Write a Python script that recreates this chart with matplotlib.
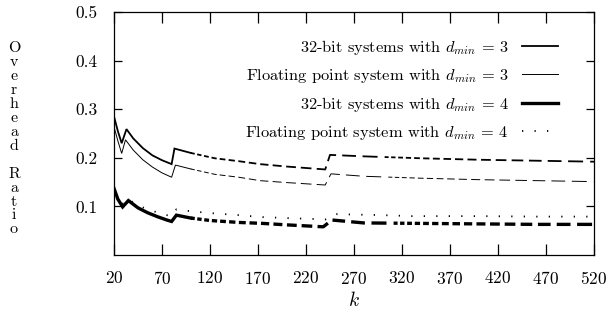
import numpy as np
import matplotlib
matplotlib.use("Agg")
import matplotlib.pyplot as plt

plt.rcParams['font.family'] = ['cmr10', 'DejaVu Serif']
plt.rcParams['mathtext.fontset'] = 'cm'
plt.rcParams['axes.formatter.use_mathtext'] = True
plt.rcParams['lines.scale_dashes'] = False

# values
k_s32_d3 = [20, 24, 28, 33, 40, 50, 60, 70, 80, 83, 100, 125, 150, 172, 200, 240, 245, 280, 340, 400, 460, 520]
v_s32_d3 = [0.285, 0.255, 0.230, 0.259, 0.240, 0.220, 0.205, 0.195, 0.187, 0.219, 0.210, 0.199, 0.193, 0.187,
            0.182, 0.176, 0.206, 0.203, 0.199, 0.196, 0.194, 0.192]

k_fp_d3 = [20, 24, 28, 32, 40, 50, 60, 70, 80, 84, 100, 125, 150, 172, 200, 240, 246, 280, 340, 400, 460, 520]
v_fp_d3 = [0.264, 0.235, 0.209, 0.237, 0.216, 0.196, 0.181, 0.169, 0.160, 0.185, 0.177, 0.166, 0.160, 0.153,
           0.149, 0.144, 0.167, 0.162, 0.158, 0.155, 0.153, 0.151]

k_s32_d4 = [20, 24, 29, 35, 45, 55, 65, 75, 80, 85, 100, 120, 150, 175, 200, 238, 247, 280, 340, 400, 460, 520]
v_s32_d4 = [0.137, 0.115, 0.099, 0.112, 0.097, 0.087, 0.079, 0.072, 0.069, 0.082, 0.076, 0.071, 0.067, 0.065,
            0.062, 0.058, 0.072, 0.066, 0.065, 0.064, 0.063, 0.063]

k_fp_d4 = [20, 25, 30, 35, 40, 50, 63, 75, 80, 85, 100, 122, 150, 174, 200, 230, 240, 252, 300, 330, 400, 460, 520]
v_fp_d4 = [0.125, 0.110, 0.105, 0.115, 0.108, 0.098, 0.089, 0.082, 0.080, 0.094, 0.090, 0.086, 0.082, 0.078,
           0.076, 0.074, 0.073, 0.084, 0.082, 0.080, 0.080, 0.079, 0.079]

labels = [r'32-bit systems with $d_{min}$ = 3',
          r'Floating point system with $d_{min}$ = 3',
          r'32-bit systems with $d_{min}$ = 4',
          r'Floating point system with $d_{min}$ = 4']

xticks = np.arange(20, 521, 50)
yticks = [0.1, 0.2, 0.3, 0.4, 0.5]

# dashes that get longer along the line (scanned look), in points
dash = []
pos = 0.0
while pos < 450:
    d = 4 + 0.06 * pos
    g = 2.5 + 0.025 * pos
    dash += [d * 0.72, g * 0.72]
    pos += d + g

fig = plt.figure(figsize=(6.07, 3.22), dpi=100)
ax = fig.add_axes([114 / 607, 1 - 255 / 322, 480 / 607, 243 / 322])

split = 100
series = [(k_s32_d3, v_s32_d3, 1.3), (k_fp_d3, v_fp_d3, 0.7), (k_s32_d4, v_s32_d4, 2.4)]
for (k, v, lw), lab in zip(series, labels[:3]):
    k = np.array(k)
    v = np.array(v)
    m1 = k <= split
    m2 = k >= split
    ax.plot(k[m1], v[m1], color='black', lw=lw, label=lab, solid_joinstyle='miter')
    ax.plot(k[m2], v[m2], color='black', lw=lw, dashes=dash, dash_capstyle='butt')

ax.plot(k_fp_d4, v_fp_d4, color='black', lw=1.3, dashes=(0.9, 8.1), dash_capstyle='butt', label=labels[3])

ax.set_xlim(20, 520)
ax.set_ylim(0, 0.5)
ax.set_xticks(xticks)
ax.set_yticks(yticks)
ax.set_yticklabels(['0.1', '0.2', '0.3', '0.4', '0.5'])
ax.tick_params(direction='in', top=True, right=True, labelsize=12.5, width=0.9)
ax.tick_params(axis='x', length=8, pad=11)
ax.tick_params(axis='y', length=6, pad=12)
for s in ax.spines.values():
    s.set_linewidth(0.9)

ax.set_xlabel('$k$', fontsize=14, labelpad=3)
fig.text(14 / 607, 1 - 139 / 322, '\n'.join('Overhead Ratio'), fontsize=11.5,
         ha='center', va='center', linespacing=1.02)

leg = ax.legend(loc='upper right', bbox_to_anchor=(0.925, 0.895), frameon=False, markerfirst=False,
                fontsize=11.8, handlelength=2.2, handletextpad=0.8, labelspacing=0.62,
                borderpad=0, borderaxespad=0)

fig.savefig('out.png', dpi=100)
